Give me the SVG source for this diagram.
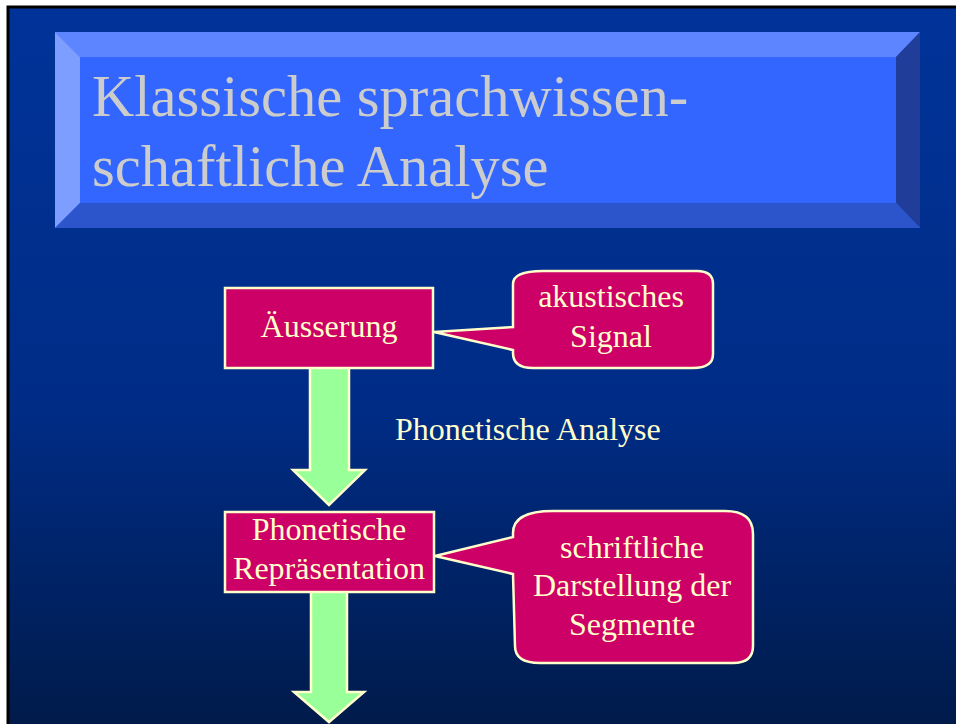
<svg xmlns="http://www.w3.org/2000/svg" width="956" height="724" viewBox="0 0 956 724">
  <defs>
    <linearGradient id="bg" x1="0" y1="0" x2="0" y2="1">
      <stop offset="0" stop-color="#003399"/>
      <stop offset="0.55" stop-color="#002c86"/>
      <stop offset="1" stop-color="#001a48"/>
    </linearGradient>
  </defs>
  <style>
    .title { font-family: "Liberation Serif", "Times New Roman", serif; font-size: 58.5px; fill: #cccccc; }
    .lbl { font-family: "Liberation Serif", "Times New Roman", serif; font-size: 32px; fill: #ffffcc; text-anchor: middle; }
    .free { font-family: "Liberation Serif", "Times New Roman", serif; font-size: 32px; fill: #ffffcc; }
    .box { fill: #cc0066; stroke: #ffffcc; stroke-width: 2.5; }
    .arrow { fill: #99ff99; stroke: #ffffcc; stroke-width: 2.5; stroke-linejoin: miter; }
  </style>
  <rect x="0" y="0" width="956" height="724" fill="#ffffff"/>
  <rect x="8" y="7" width="960" height="730" fill="url(#bg)" stroke="#000000" stroke-width="3"/>

  <g id="title">
    <rect x="55" y="32" width="865" height="196" fill="#3366ff"/>
    <polygon points="55,32 920,32 896,57 80,57" fill="#5c85ff"/>
    <polygon points="55,32 80,57 80,203 55,228" fill="#7d9dff"/>
    <polygon points="920,32 920,228 896,203 896,57" fill="#203d99"/>
    <polygon points="55,228 920,228 896,203 80,203" fill="#2c55cc"/>
    <text class="title" x="92" y="116">Klassische sprachwissen-</text>
    <text class="title" x="92" y="186">schaftliche Analyse</text>
  </g>

  <g id="connectors">
    <path class="arrow" d="M310 367 L310 470 L293 470 L329 505 L365 470 L349 470 L349 367"/>
    <path class="arrow" d="M311 592 L311 692 L294 692 L329 722 L364 692 L347 692 L347 592"/>
  </g>

  <g id="label-phonetische-analyse">
    <text class="free" x="395" y="440">Phonetische Analyse</text>
  </g>

  <g id="node-aeusserung">
    <rect class="box" x="225" y="288" width="208" height="80"/>
    <text class="lbl" x="329" y="337">Äusserung</text>
  </g>

  <g id="callout-akustisches-signal">
    <path class="box" d="M543 271 L697 271 Q713 271 713 284 L713 354 Q713 368 693 368 L533 368 Q513 368 513 353 L513 350 L434 332 L513 327 L513 284 Q513 271 543 271 Z"/>
    <text class="lbl" x="611" y="307">akustisches</text>
    <text class="lbl" x="611" y="347">Signal</text>
  </g>

  <g id="node-phonetische-repraesentation">
    <rect class="box" x="225" y="512" width="209" height="80"/>
    <text class="lbl" x="329" y="540">Phonetische</text>
    <text class="lbl" x="329" y="579">Repräsentation</text>
  </g>

  <g id="callout-schriftliche-darstellung">
    <path class="box" d="M553 511 L725 511 Q753 511 753 534 L753 646 Q753 663 733 663 L540 663 Q515 663 515 646 L513 574 L435 556 L513 537 L513 533 Q513 511 553 511 Z"/>
    <text class="lbl" x="632" y="558">schriftliche</text>
    <text class="lbl" x="632" y="596">Darstellung der</text>
    <text class="lbl" x="632" y="635">Segmente</text>
  </g>
</svg>
